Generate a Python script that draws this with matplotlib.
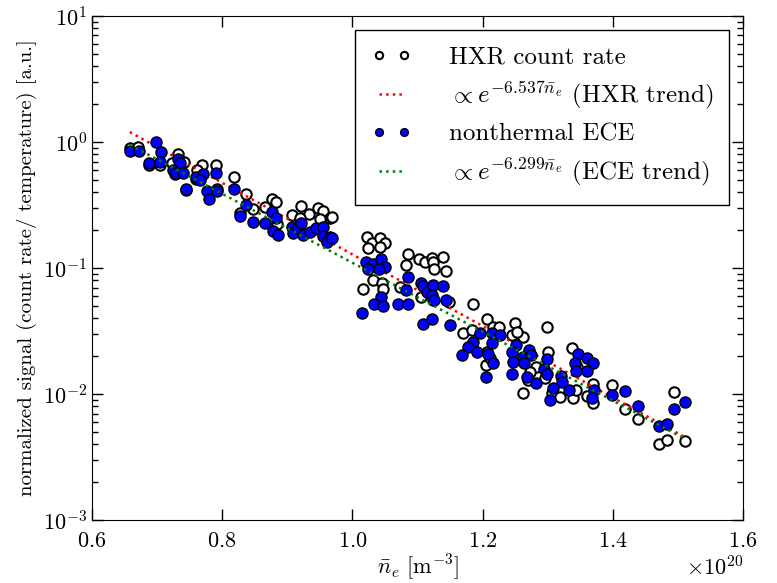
import numpy as np
import matplotlib
matplotlib.use("Agg")
import matplotlib.pyplot as plt

# classic-looking style with computer modern text
plt.rcParams['font.family'] = 'serif'
plt.rcParams['font.serif'] = ['cmr10']
plt.rcParams['mathtext.fontset'] = 'cm'
plt.rcParams['axes.unicode_minus'] = False
plt.rcParams['axes.formatter.use_mathtext'] = True
plt.rcParams['font.size'] = 16

# -----------------------
# DATA (density in 1e20 m^-3, signals in a.u.)
# -----------------------
hxr_ne = [0.658, 0.671, 0.688, 0.704, 0.732, 0.723, 0.741, 0.727, 0.744, 0.769,
          0.761, 0.790, 0.760, 0.792, 0.818, 0.837, 0.847, 0.827, 0.876, 0.883,
          0.866, 0.921, 0.907, 0.933, 0.947, 0.955, 0.966, 0.950, 0.920, 0.884,
          0.969, 1.022, 1.030, 1.024, 1.042, 1.050, 1.042, 1.085, 1.082, 1.102,
          1.112, 1.122, 1.124, 1.139, 1.125, 1.144, 1.032, 1.045, 1.016, 1.047,
          1.073, 1.105, 1.124, 1.148, 1.185, 1.170, 1.184, 1.207, 1.216, 1.225,
          1.250, 1.245, 1.262, 1.253, 1.207, 1.205, 1.211, 1.300, 1.299, 1.282,
          1.273, 1.270, 1.296, 1.337, 1.345, 1.262, 1.307, 1.319, 1.339, 1.343,
          1.360, 1.370, 1.370, 1.399, 1.419, 1.439, 1.494, 1.471, 1.483, 1.511]
hxr_sig = [0.896, 0.912, 0.657, 0.657, 0.803, 0.681, 0.694, 0.557, 0.416, 0.657,
           0.600, 0.657, 0.508, 0.424, 0.527, 0.387, 0.294, 0.273, 0.353, 0.334,
           0.305, 0.310, 0.263, 0.268, 0.299, 0.283, 0.249, 0.245, 0.249, 0.224,
           0.254, 0.176, 0.158, 0.144, 0.173, 0.158, 0.147, 0.129, 0.106, 0.118,
           0.112, 0.120, 0.112, 0.122, 0.098, 0.0946, 0.0803, 0.0760, 0.0681, 0.0681,
           0.0707, 0.0589, 0.0557, 0.0537, 0.0518, 0.0305, 0.0322, 0.0394, 0.0340, 0.0340,
           0.0366, 0.0294, 0.0283, 0.0310, 0.0216, 0.0170, 0.0193, 0.0216, 0.0340, 0.0164,
           0.0150, 0.0129, 0.0134, 0.0232, 0.0164, 0.0102, 0.0102, 0.00946, 0.00929, 0.0108,
           0.00964, 0.0120, 0.00849, 0.0118, 0.00760, 0.00633, 0.0104, 0.00401, 0.00431, 0.00424]

ece_ne = [0.658, 0.672, 0.698, 0.706, 0.688, 0.704, 0.732, 0.735, 0.724, 0.729,
          0.740, 0.744, 0.760, 0.770, 0.766, 0.790, 0.777, 0.792, 0.780, 0.818,
          0.837, 0.827, 0.847, 0.866, 0.876, 0.883, 0.878, 0.886, 0.907, 0.909,
          0.916, 0.921, 0.924, 0.935, 0.944, 0.955, 0.955, 0.966, 0.961, 0.969,
          1.021, 1.032, 1.024, 1.044, 1.050, 1.041, 1.085, 1.082, 1.105, 1.108,
          1.115, 1.124, 1.139, 1.122, 1.125, 1.144, 1.044, 1.033, 1.047, 1.070,
          1.085, 1.015, 1.108, 1.122, 1.150, 1.196, 1.214, 1.227, 1.185, 1.178,
          1.191, 1.168, 1.214, 1.208, 1.216, 1.205, 1.251, 1.245, 1.247, 1.262,
          1.271, 1.274, 1.264, 1.299, 1.245, 1.294, 1.299, 1.268, 1.282, 1.308,
          1.320, 1.322, 1.304, 1.333, 1.347, 1.342, 1.343, 1.360, 1.370, 1.360,
          1.371, 1.368, 1.399, 1.419, 1.439, 1.471, 1.483, 1.494, 1.511]
ece_sig = [0.848, 0.848, 1.00, 0.833, 0.681, 0.694, 0.733, 0.681, 0.600, 0.567,
           0.567, 0.424, 0.527, 0.557, 0.499, 0.567, 0.408, 0.408, 0.353, 0.424,
           0.316, 0.259, 0.232, 0.228, 0.278, 0.249, 0.197, 0.183, 0.212, 0.190,
           0.208, 0.228, 0.183, 0.193, 0.208, 0.212, 0.180, 0.176, 0.161, 0.173,
           0.112, 0.108, 0.098, 0.118, 0.102, 0.098, 0.0848, 0.0669, 0.0760, 0.0720,
           0.0645, 0.0733, 0.0720, 0.0610, 0.0557, 0.0557, 0.0589, 0.0518, 0.0499, 0.0518,
           0.0518, 0.0439, 0.0359, 0.0394, 0.0353, 0.0305, 0.0305, 0.0294, 0.0259, 0.0236,
           0.0216, 0.0204, 0.0254, 0.0208, 0.0176, 0.0136, 0.0245, 0.0216, 0.0180, 0.0197,
           0.0223, 0.0204, 0.0176, 0.0190, 0.0144, 0.0158, 0.0144, 0.0136, 0.0122, 0.0112,
           0.0139, 0.0125, 0.00896, 0.0108, 0.0208, 0.0176, 0.0152, 0.0193, 0.0176, 0.0152,
           0.0108, 0.00929, 0.00982, 0.0106, 0.00803, 0.00557, 0.00578, 0.00760, 0.00864]

# exponential trends: amp * exp(rate * ne)
hxr_rate, hxr_amp = -6.537, 88.5
ece_rate, ece_amp = -6.299, 59.9

hxr_ne = np.array(hxr_ne)
ece_ne = np.array(ece_ne)
ne_fit = np.linspace(min(hxr_ne.min(), ece_ne.min()), max(hxr_ne.max(), ece_ne.max()), 100)

# -----------------------
# PLOT
# -----------------------
fig = plt.figure(figsize=(7.77, 5.83), dpi=100)
ax = fig.add_axes([0.1184, 0.108, 0.8378, 0.8646])

ax.plot(hxr_ne * 1e20, hxr_sig, 'o', mfc='white', mec='black', mew=1.5, ms=7.5,
        label='HXR count rate')
ax.plot(ne_fit * 1e20, hxr_amp * np.exp(hxr_rate * ne_fit), ':', color='red', lw=1.8,
        label=r'$\propto e^{-6.537\bar{n}_e}$ (HXR trend)')
ax.plot(ece_ne * 1e20, ece_sig, 'o', mfc='blue', mec='black', mew=1.0, ms=8,
        label='nonthermal ECE')
ax.plot(ne_fit * 1e20, ece_amp * np.exp(ece_rate * ne_fit), ':', color='green', lw=1.8,
        label=r'$\propto e^{-6.299\bar{n}_e}$ (ECE trend)')

ax.set_yscale('log')
ax.set_xlim(0.6e20, 1.6e20)
ax.set_ylim(1e-3, 1e1)

ax.tick_params(which='both', direction='in', top=True, right=True, labelsize=16)
ax.tick_params(which='major', length=8, width=1)
ax.tick_params(which='minor', length=4, width=1)
ax.tick_params(axis='x', pad=8)

ax.set_xlabel(r'$\bar{n}_e\ [\mathrm{m}^{-3}]$', fontsize=16, labelpad=1)
ax.set_ylabel('normalized signal (count rate/ temperature) [a.u.]', fontsize=15)

leg = ax.legend(loc='upper right', numpoints=2, markerscale=0.7, fontsize=18,
                fancybox=False, framealpha=1, edgecolor='black',
                borderaxespad=0.55, borderpad=0.65, labelspacing=0.45,
                handlelength=1.6, handletextpad=1.5)
leg.get_frame().set_linewidth(1)

plt.savefig('out.png', dpi=100)
